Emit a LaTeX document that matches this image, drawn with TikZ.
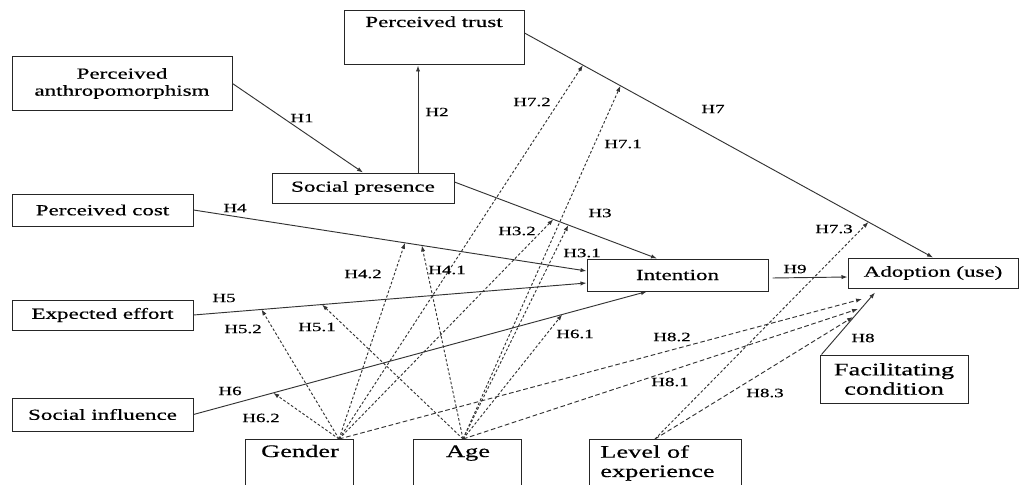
\documentclass[tikz,border=0pt]{standalone}
\usepackage{fontspec}
\setmainfont{Liberation Serif}[FakeStretch=1.5,FakeBold=0.5]
\usetikzlibrary{arrows.meta}
\newcommand{\boxfont}{\fontsize{11.5}{12.75}\selectfont}
\newcommand{\bigfont}{\fontsize{13.2}{14.5}\selectfont}
\newcommand{\labfont}{\fontsize{9.5}{10}\selectfont}
\begin{document}
\begin{tikzpicture}[x=0.75pt,y=-0.75pt,
  box/.style={draw=black!85, line width=0.75pt, inner sep=0pt, font=\boxfont},
  txt/.style={inner sep=0pt, font=\boxfont},
  bigtxt/.style={inner sep=0pt, font=\bigfont},
  arr/.style={draw=black!80, line width=0.7pt, -{Latex[length=4.5pt,width=3.2pt]}},
  modarr/.style={arr, dash pattern=on 2pt off 1.5pt},
  modlong/.style={arr, dash pattern=on 3.5pt off 2pt},
  hlab/.style={inner sep=0pt, font=\labfont}]
\useasboundingbox (0,0) rectangle (1020,485);
\clip (0,0) rectangle (1020,485);
\fill[white] (0,0) rectangle (1020,485);

% boxes
\node[box, minimum width=165pt, minimum height=39.75pt, align=center] (pa) at (122,83.5) {Perceived\\anthropomorphism};
\node[box, minimum width=135pt, minimum height=40.5pt] (pt) at (434,38) {};
\node[txt, anchor=base] (ptT) at (434,27) {Perceived trust};
\node[box, minimum width=136.5pt, minimum height=22.5pt] (sp) at (363,188) {Social presence};
\node[box, minimum width=135.75pt, minimum height=24pt] (pc) at (102.5,210) {Perceived cost};
\node[box, minimum width=135.75pt, minimum height=22.5pt] (ee) at (102.5,315) {Expected effort};
\node[box, minimum width=135.75pt, minimum height=24.75pt] (si) at (102.5,414.5) {Social influence};
\node[box, minimum width=135.75pt, minimum height=24pt] (int) at (677.5,275) {Intention};
\node[box, minimum width=127.5pt, minimum height=22.5pt] (adop) at (933,273) {Adoption (use)};
\node[box, font=\bigfont, minimum width=111pt, minimum height=36pt, align=center] (fc) at (894,379) {Facilitating\\condition};
\node[box, minimum width=81pt, minimum height=48pt, anchor=north] (gen) at (299,439) {};
\node[bigtxt, anchor=base] (genT) at (300,457) {Gender};
\node[box, minimum width=81pt, minimum height=48pt, anchor=north] (age) at (467,439) {};
\node[bigtxt, anchor=base] (ageT) at (468,457) {Age};
\node[box, minimum width=114pt, minimum height=48pt, anchor=north] (loe) at (665,439) {};
\node[bigtxt, anchor=north west, align=left] (loeT) at (600,445) {Level of\\experience};

% main paths
\draw[arr] (pa.east) -- (sp.north);
\draw[arr] ([xshift=41.25pt]sp.north) -- ([xshift=-12pt]pt.south);
\draw[arr] ([yshift=4.5pt]sp.east) -- coordinate[pos=0.488] (m32) coordinate[pos=0.562] (m31) ([xshift=-15.4pt]int.north);
\draw[arr] (pc.east) -- coordinate[pos=0.538] (m42) coordinate[pos=0.581] (m41) ([yshift=3pt]int.west);
\draw[arr] (ee.east) -- coordinate[pos=0.173] (m52) coordinate[pos=0.327] (m51) ([yshift=-6pt]int.west);
\draw[arr] (si.east) -- coordinate[pos=0.176] (m62) coordinate[pos=0.813] (m61) ([xshift=-22.9pt]int.south);
\draw[arr] ([yshift=3.75pt]pt.east) -- coordinate[pos=0.143] (m72) coordinate[pos=0.235] (m71) coordinate[pos=0.842] (m73) (adop.north);
\draw[arr] ([xshift=3pt,yshift=-2.25pt]int.east) -- ([yshift=-3pt]adop.west);
\draw[arr] ([xshift=1.5pt]fc.north west) -- ([xshift=-43.5pt,yshift=-3pt]adop.south);

% moderator origins and free ends
\coordinate (g0) at ([xshift=30pt]gen.north);
\coordinate (a0) at ([xshift=-3pt]age.north);
\coordinate (e0) at ([xshift=-7.5pt]loe.north);
\coordinate (e82) at (862,299);
\coordinate (e81) at (858,309);
\coordinate (e83) at (853,317);

% gender
\draw[modarr] (g0) -- (m42);
\draw[modarr] (g0) -- (m52);
\draw[modarr] (g0) -- (m62);
\draw[modarr] (g0) -- (m72);
\draw[modarr] (g0) -- (m32);
\draw[modlong] (g0) -- (e82);
% age
\draw[modarr] (a0) -- (m41);
\draw[modarr] (a0) -- (m51);
\draw[modarr] (a0) -- (m61);
\draw[modarr] (a0) -- (m71);
\draw[modarr] (a0) -- (m31);
\draw[modlong] (a0) -- (e81);
% experience
\draw[modarr] (e0) -- (m73);
\draw[modlong] (e0) -- (e83);

% labels
\node[hlab] (l1) at (302,118) {H1};
\node[hlab] (l2) at (437,112) {H2};
\node[hlab] (l3) at (600,213) {H3};
\node[hlab] (l4) at (235,208) {H4};
\node[hlab] (l5) at (224,298) {H5};
\node[hlab] (l6) at (230,391) {H6};
\node[hlab] (l7) at (713,109) {H7};
\node[hlab] (l8) at (863,338) {H8};
\node[hlab] (l9) at (795,269) {H9};
\node[hlab] (l72) at (532,102) {H7.2};
\node[hlab] (l71) at (623,144) {H7.1};
\node[hlab] (l73) at (834,229) {H7.3};
\node[hlab] (l32) at (517,231) {H3.2};
\node[hlab] (l31) at (582,253) {H3.1};
\node[hlab] (l42) at (363,274) {H4.2};
\node[hlab] (l41) at (447,270) {H4.1};
\node[hlab] (l52) at (243,329) {H5.2};
\node[hlab] (l51) at (317,327) {H5.1};
\node[hlab] (l62) at (261,418) {H6.2};
\node[hlab] (l61) at (575,334) {H6.1};
\node[hlab] (l82) at (672,337) {H8.2};
\node[hlab] (l81) at (670,382) {H8.1};
\node[hlab] (l83) at (765,393) {H8.3};
\end{tikzpicture}
\end{document}
